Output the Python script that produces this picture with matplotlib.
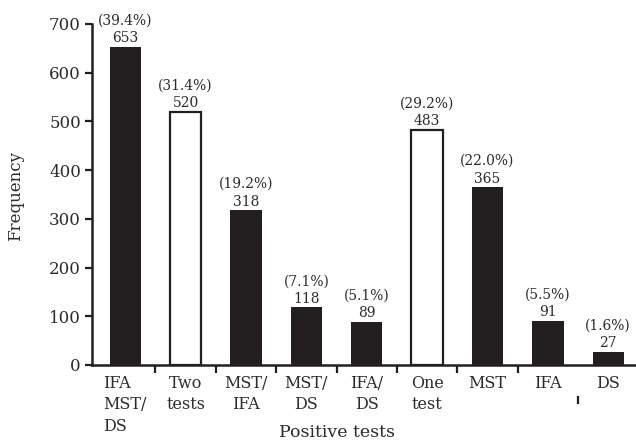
import matplotlib
matplotlib.use("Agg")
import matplotlib.pyplot as plt
import matplotlib.transforms as mtransforms
import numpy as np

categories = ["IFA\nMST/\nDS", "Two\ntests", "MST/\nIFA", "MST/\nDS", "IFA/\nDS",
              "One\ntest", "MST", "IFA", "DS"]
counts = [653, 520, 318, 118, 89, 483, 365, 91, 27]
percents = ["39.4", "31.4", "19.2", "7.1", "5.1", "29.2", "22.0", "5.5", "1.6"]
hollow = [False, True, False, False, False, True, False, False, False]

dark = "#231f20"
text_col = "#2b2b2b"
plt.rcParams["font.family"] = ["DejaVu Serif"]

fig = plt.figure(figsize=(6.36, 4.44), dpi=100)
ax = fig.add_axes([0.1447, 0.178, 0.8553, 0.768])

x = np.arange(len(categories))
for i, (c, h) in enumerate(zip(counts, hollow)):
    if h:
        ax.bar(x[i], c, width=0.52, color="white", edgecolor=dark, linewidth=1.6)
    else:
        ax.bar(x[i], c, width=0.52, color=dark, edgecolor=dark, linewidth=0)
    ax.annotate("(%s%%)\n%d" % (percents[i], c), (x[i], c), xytext=(0, 1),
                textcoords="offset points", ha="center", va="bottom",
                fontsize=10, color=text_col, linespacing=1.35, clip_on=False)

ax.set_xlim(-0.55, len(categories) - 1 + 0.46)
ax.set_ylim(0, 700)
ax.set_yticks(range(0, 701, 100))
ax.tick_params(axis="y", labelsize=12, length=5, width=1.6, color=dark,
               labelcolor=text_col, pad=3)

# ticks between bars (the IFA/DS one is drawn displaced, as in the original)
ax.set_xticks(x[:-2] + 0.5)
ax.set_xticklabels([])
ax.tick_params(axis="x", which="major", length=6, width=1.6, color=dark)
ax.set_xticks(x, minor=True)
ax.set_xticklabels(categories, minor=True, fontsize=11.5, linespacing=1.35,
                   color=text_col)
ax.tick_params(axis="x", which="minor", length=0, pad=7)
ax.get_xticklabels(minor=True)[0].set_multialignment("left")
trans = mtransforms.blended_transform_factory(ax.transData, ax.transAxes)
ax.plot([x[-2] + 0.5] * 2, [-0.094, -0.111], color=dark, lw=1.6,
        transform=trans, clip_on=False)

for s in ["top", "right"]:
    ax.spines[s].set_visible(False)
for s in ["left", "bottom"]:
    ax.spines[s].set_linewidth(1.8)
    ax.spines[s].set_color(dark)

fig.text(16 / 636, 1 - 196 / 444, "Frequency", rotation=90, fontsize=12,
         color=text_col, ha="center", va="center")
fig.text(337 / 636, 1 - 432 / 444, "Positive tests", fontsize=12.5,
         color=text_col, ha="center", va="center")

fig.savefig("out.png", dpi=100)
